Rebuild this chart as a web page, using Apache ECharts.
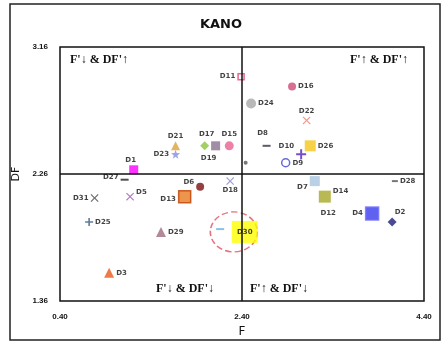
<!DOCTYPE html>
<html>
<head>
<meta charset="utf-8">
<script src="https://cdn.jsdelivr.net/npm/echarts@6/dist/echarts.min.js"></script>
<style>html,body{margin:0;padding:0;background:#fff}#c{width:442px;height:343px}</style>
</head>
<body>
<div id="c"></div>
<script>
// ---- data ----
const names = ['D1','D2','D3','D4','D5','D6','D7','D8','D9','D10','D11','D12','D13','D14','D15','D16','D17','D18','D19','D20','D21','D22','D23','D24','D25','D26','D27','D28','D29','D30','D31'];
const fValues  = [1.21,4.05,0.94,3.83,1.17,1.94,3.20,2.67,2.88,3.05,2.39,2.16,1.77,3.31,2.26,2.95,1.99,2.27,2.11,2.44,1.67,3.11,1.67,2.50,0.72,3.15,1.11,4.08,1.51,2.43,0.78];
const dfValues = [2.29,1.92,1.56,1.98,2.10,2.17,2.21,2.46,2.34,2.40,2.95,1.87,2.10,2.10,2.46,2.88,2.46,2.21,2.46,2.34,2.46,2.64,2.40,2.76,1.92,2.46,2.22,2.21,1.85,1.85,2.09];
const xTicks = [0.40, 2.40, 4.40];
const yTicks = [1.36, 2.26, 3.16];
const highlightF = [2.31];
const highlightDF = [1.85];
const quadrantLabels = ["F'↓ & DF'↑", "F'↑ & DF'↑", "F'↓ & DF'↓", "F'↑ & DF'↓"];

// ---- styles ----
const X = 'path://M0,1L1,0L5,4L9,0L10,1L6,5L10,9L9,10L5,6L1,10L0,9L4,5Z';
const PLUS = 'path://M4,0H6V4H10V6H6V10H4V6H0V4H4Z';
const DASH = 'path://M0,0H10V2H0Z';
const STAR = 'path://M5,0L6.2,3.5L10,3.6L7,6L8.1,9.6L5,7.5L1.9,9.6L3,6L0,3.6L3.8,3.5Z';
const styles = {
  D1:{s:'rect',z:9,c:'#ff00ff',p:'top',o:[-3,0]},
  D2:{s:'diamond',z:9,c:'#1e1e78',p:'top',o:[8,0]},
  D3:{s:'triangle',z:10,c:'#e85a1a',p:'right'},
  D4:{s:'rect',z:13,c:'#3a3aee',b:'#7070ff',p:'left'},
  D5:{s:X,z:8,c:'#9a5fb0',p:'right',o:[0,-4]},
  D6:{s:'circle',z:8,c:'#7a1010',p:'left',o:[0,-5]},
  D7:{s:'rect',z:10,c:'#a8c4e0',p:'left',o:[0,6]},
  D8:{s:DASH,z:[8,2],c:'#334',p:'top',o:[-4,-6]},
  D9:{s:'circle',z:8,c:'#fff',b:'#4444cc',p:'right'},
  D10:{s:PLUS,z:10,c:'#5522bb',p:'left',o:[0,-8]},
  D11:{s:'rect',z:6,c:'#fff',b:'#e04070',p:'left'},
  D12:{s:DASH,z:[8,2],c:'#6ab0e0',p:'inside',o:[108,-16]},
  D13:{s:'rect',z:12,c:'#e87a20',b:'#c04000',p:'left',o:[0,3]},
  D14:{s:'rect',z:12,c:'#a8a828',p:'right',o:[0,-5]},
  D15:{s:'circle',z:9,c:'#e86090',p:'top',o:[0,-2]},
  D16:{s:'circle',z:8,c:'#d04a78',p:'right'},
  D17:{s:'diamond',z:9,c:'#8cc43c',p:'top',o:[2,-2]},
  D18:{s:X,z:8,c:'#8888cc',p:'bottom'},
  D19:{s:'rect',z:9,c:'#8a7090',p:'bottom',o:[-7,2]},
  D20:{s:'circle',z:4,c:'#555',p:null},
  D21:{s:'triangle',z:9,c:'#e0a040',p:'top'},
  D22:{s:X,z:8,c:'#f08070',p:'top'},
  D23:{s:STAR,z:9,c:'#8a8ae0',p:'left'},
  D24:{s:'circle',z:10,c:'#a8a8a8',p:'right'},
  D25:{s:PLUS,z:8,c:'#3a5a80',p:'right'},
  D26:{s:'rect',z:11,c:'#f5c518',p:'right'},
  D27:{s:DASH,z:[8,2],c:'#222',p:'left',o:[0,-3]},
  D28:{s:DASH,z:[6,2],c:'#555',p:'right'},
  D29:{s:'triangle',z:10,c:'#a06a80',p:'right'},
  D30:{s:'rect',z:[26,22],c:'#ffff00',p:'inside'},
  D31:{s:X,z:8,c:'#444',p:'left'}
};

const pts = names.map((n,i)=>{
  const st = styles[n];
  return {
    name:n, value:[fValues[i], dfValues[i]],
    symbol:st.s, symbolSize:st.z,
    itemStyle:{color:st.c, borderColor:st.b||st.c, borderWidth:st.b?1.5:0},
    label:{show:!!st.p, position:st.p||'top', offset:st.o||[0,0], distance:2,
      formatter:'{b}', fontSize:7, fontWeight:'bold', color:'#111', fontFamily:'DejaVu Sans'}
  };
});

const chart = echarts.init(document.getElementById('c'));
const qStyle = {fontFamily:'Liberation Serif', fontSize:12, fontWeight:'bold', fill:'#111'};
chart.setOption({
  animation:false,
  title:{text:'KANO', left:'center', top:13, textStyle:{fontSize:13, fontWeight:'bold', color:'#111', fontFamily:'DejaVu Sans'}},
  grid:{left:60, right:18, top:47, bottom:41, show:true, borderColor:'#111', borderWidth:1.5},
  xAxis:{type:'value', min:xTicks[0], max:xTicks[2], name:'F', nameLocation:'middle', nameGap:22,
    nameTextStyle:{fontSize:12, color:'#111', fontFamily:'DejaVu Sans'},
    splitLine:{show:false}, axisTick:{show:false}, axisLine:{show:false},
    axisLabel:{customValues:xTicks, formatter:v=>v.toFixed(2), fontSize:8, fontWeight:'bold', color:'#111', margin:12}},
  yAxis:{type:'value', min:yTicks[0], max:yTicks[2], name:'DF', nameLocation:'middle', nameGap:36, nameRotate:90,
    nameTextStyle:{fontSize:11, color:'#111', fontFamily:'DejaVu Sans'},
    splitLine:{show:false}, axisTick:{show:false}, axisLine:{show:false},
    axisLabel:{customValues:yTicks, formatter:v=>v.toFixed(2), fontSize:8, fontWeight:'bold', color:'#111', margin:12}},
  graphic:[
    {type:'rect', shape:{x:10,y:4,width:430,height:336}, style:{fill:'none', stroke:'#222', lineWidth:1.5}, silent:true},
    {type:'text', left:70, top:54, style:Object.assign({text:quadrantLabels[0]},qStyle)},
    {type:'text', right:34, top:54, style:Object.assign({text:quadrantLabels[1]},qStyle)},
    {type:'text', left:156, top:283, style:Object.assign({text:quadrantLabels[2]},qStyle)},
    {type:'text', left:250, top:283, style:Object.assign({text:quadrantLabels[3]},qStyle)}
  ],
  series:[
    {type:'scatter', data:highlightF.map((f,i)=>[f, highlightDF[i]]), symbol:'circle', symbolSize:[47,40], silent:true,
      itemStyle:{color:'rgba(0,0,0,0)', borderColor:'#e05060', borderType:'dashed', borderWidth:1.5}, z:1},
    {type:'scatter', data:pts, z:3,
      markLine:{silent:true, symbol:'none', label:{show:false}, lineStyle:{color:'#111', type:'solid', width:1.5},
        data:[{xAxis:xTicks[1]},{yAxis:yTicks[1]}]}}
  ]
});
</script>
</body>
</html>
